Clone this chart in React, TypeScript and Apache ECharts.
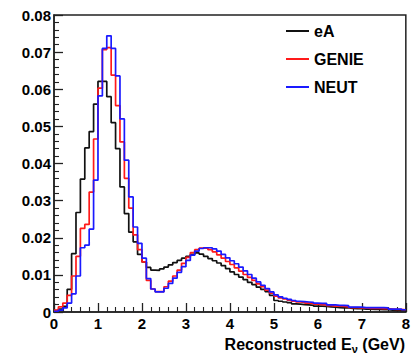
import React, { useEffect, useRef } from "react";
import * as echarts from "echarts";

// Histogram binning (GeV)
const binStart = 0;
const binWidth = 0.1;
const xTickLabels = ["0", "1", "2", "3", "4", "5", "6", "7", "8"];
const yTickLabels = ["0", "0.01", "0.02", "0.03", "0.04", "0.05", "0.06", "0.07", "0.08"];
const seriesNames = ["eA", "GENIE", "NEUT"];

// eA (black)
const eA = [
  0.0004, 0.0008, 0.0015, 0.0061, 0.0157, 0.0268, 0.0358, 0.0442, 0.0486, 0.0560,
  0.0621, 0.0621, 0.0580, 0.0510, 0.0440, 0.0337, 0.0265, 0.0215, 0.0189, 0.0155,
  0.0135, 0.0120, 0.0113, 0.0112, 0.0116, 0.0121, 0.0127, 0.0133, 0.0139, 0.0145,
  0.0150, 0.0155, 0.0159, 0.0156, 0.0150, 0.0144, 0.0138, 0.0132, 0.0125, 0.0117,
  0.0108, 0.0101, 0.0094, 0.0087, 0.0080, 0.0074, 0.0067, 0.0061, 0.0055, 0.0045,
  0.0031, 0.0029, 0.0027, 0.0025, 0.0022, 0.0021, 0.0020, 0.0019, 0.0018, 0.0016,
  0.0016, 0.0015, 0.0014, 0.0013, 0.0012, 0.0011, 0.0011, 0.0010, 0.0009, 0.0009,
  0.0008, 0.0008, 0.0007, 0.0007, 0.0006, 0.0006, 0.0005, 0.0004, 0.0004, 0.0004,
];

// GENIE (red)
const genie = [
  0.0005, 0.0014, 0.0024, 0.0045, 0.0097, 0.0150, 0.0225, 0.0236, 0.0323, 0.0466,
  0.0603, 0.0707, 0.0712, 0.0638, 0.0556, 0.0458, 0.0360, 0.0280, 0.0208, 0.0168,
  0.0135, 0.0085, 0.0062, 0.0055, 0.0055, 0.0068, 0.0083, 0.0097, 0.0113, 0.0131,
  0.0147, 0.0160, 0.0168, 0.0172, 0.0172, 0.0168, 0.0162, 0.0154, 0.0145, 0.0136,
  0.0128, 0.0119, 0.0110, 0.0101, 0.0093, 0.0085, 0.0076, 0.0068, 0.0059, 0.0051,
  0.0043, 0.0038, 0.0035, 0.0032, 0.0029, 0.0027, 0.0026, 0.0024, 0.0023, 0.0021,
  0.0020, 0.0019, 0.0017, 0.0016, 0.0016, 0.0015, 0.0014, 0.0012, 0.0012, 0.0011,
  0.0011, 0.0010, 0.0010, 0.0010, 0.0009, 0.0009, 0.0008, 0.0007, 0.0007, 0.0006,
];

// NEUT (blue)
const neut = [
  0.0002, 0.0005, 0.0011, 0.0024, 0.0049, 0.0097, 0.0173, 0.0180, 0.0223, 0.0355,
  0.0582, 0.0710, 0.0744, 0.0710, 0.0636, 0.0520, 0.0409, 0.0310, 0.0229, 0.0185,
  0.0145, 0.0090, 0.0062, 0.0054, 0.0054, 0.0064, 0.0077, 0.0091, 0.0107, 0.0122,
  0.0139, 0.0153, 0.0164, 0.0171, 0.0173, 0.0173, 0.0170, 0.0164, 0.0155, 0.0146,
  0.0138, 0.0130, 0.0121, 0.0111, 0.0101, 0.0091, 0.0081, 0.0072, 0.0063, 0.0054,
  0.0046, 0.0041, 0.0037, 0.0034, 0.0031, 0.0029, 0.0028, 0.0027, 0.0026, 0.0024,
  0.0023, 0.0023, 0.0019, 0.0019, 0.0018, 0.0018, 0.0017, 0.0013, 0.0013, 0.0013,
  0.0012, 0.0012, 0.0012, 0.0012, 0.0012, 0.0011, 0.0008, 0.0008, 0.0008, 0.0006,
];

const colors = ["#111111", "#ff1a1a", "#1a1aff"];

function toSteps(values: number[]): [number, number][] {
  const pts: [number, number][] = values.map((v, i) => [
    +(binStart + i * binWidth).toFixed(2),
    v,
  ]);
  pts.push([+(binStart + values.length * binWidth).toFixed(2), values[values.length - 1]]);
  return pts;
}

const FONT = "'Liberation Sans', Arial, Helvetica, sans-serif";

export default function App() {
  const ref = useRef<HTMLDivElement>(null);

  useEffect(() => {
    if (!ref.current) return;
    const chart = echarts.init(ref.current, undefined, { renderer: "svg" });
    const all = [eA, genie, neut];
    const axisCommon = {
      axisLine: { show: true, onZero: false, lineStyle: { color: "#222", width: 1.5 } },
      axisTick: { show: true, inside: true, length: 9, lineStyle: { color: "#222", width: 1.3 } },
      minorTick: { show: true, splitNumber: 5, length: 5, lineStyle: { color: "#222", width: 1.1 } },
      splitLine: { show: false },
      minorSplitLine: { show: false },
    };
    chart.setOption({
      animation: false,
      backgroundColor: "#ffffff",
      grid: {
        left: 54,
        right: 5,
        top: 15,
        bottom: 45,
        show: true,
        borderColor: "#222",
        borderWidth: 1.5,
        backgroundColor: "transparent",
      },
      xAxis: {
        type: "value",
        min: 0,
        max: 8,
        interval: 1,
        ...axisCommon,
        axisLabel: {
          color: "#000",
          fontSize: 15,
          fontWeight: "bold",
          fontFamily: FONT,
          margin: 4,
          formatter: (v: number) => xTickLabels[Math.round(v)] ?? String(v),
        },
      },
      yAxis: {
        type: "value",
        min: 0,
        max: 0.08,
        interval: 0.01,
        ...axisCommon,
        axisLabel: {
          color: "#000",
          fontSize: 15,
          fontWeight: "bold",
          fontFamily: FONT,
          margin: 3,
          formatter: (v: number) => yTickLabels[Math.round(v / 0.01)] ?? String(v),
        },
      },
      legend: {
        orient: "vertical",
        left: 286,
        top: 23,
        padding: 0,
        icon: "rect",
        itemWidth: 23,
        itemHeight: 2,
        itemGap: 12,
        data: seriesNames,
        textStyle: {
          color: "#000",
          fontSize: 16,
          fontWeight: "bold",
          fontFamily: FONT,
          lineHeight: 14,
        },
      },
      graphic: [
        {
          type: "text",
          right: 8,
          top: 336,
          style: {
            text: "{b|Reconstructed E}{s|ν}{b| (GeV)}",
            fill: "#000",
            rich: {
              b: { fontSize: 16, fontWeight: "bold", fontFamily: FONT, lineHeight: 20, fill: "#000" },
              s: { fontSize: 11, fontWeight: "bold", fontFamily: FONT, lineHeight: 11, verticalAlign: "bottom", fill: "#000" },
            },
          },
        },
      ],
      series: seriesNames.map((name, k) => ({
        name,
        type: "line",
        step: "end",
        symbol: "none",
        showSymbol: false,
        data: toSteps(all[k]),
        lineStyle: { color: colors[k], width: 1.7 },
        itemStyle: { color: colors[k] },
        z: 2 + k,
      })),
    });
    return () => chart.dispose();
  }, []);

  return (
    <div
      ref={ref}
      style={{ position: "fixed", left: 0, top: 0, width: 413, height: 357, background: "#fff" }}
    />
  );
}
